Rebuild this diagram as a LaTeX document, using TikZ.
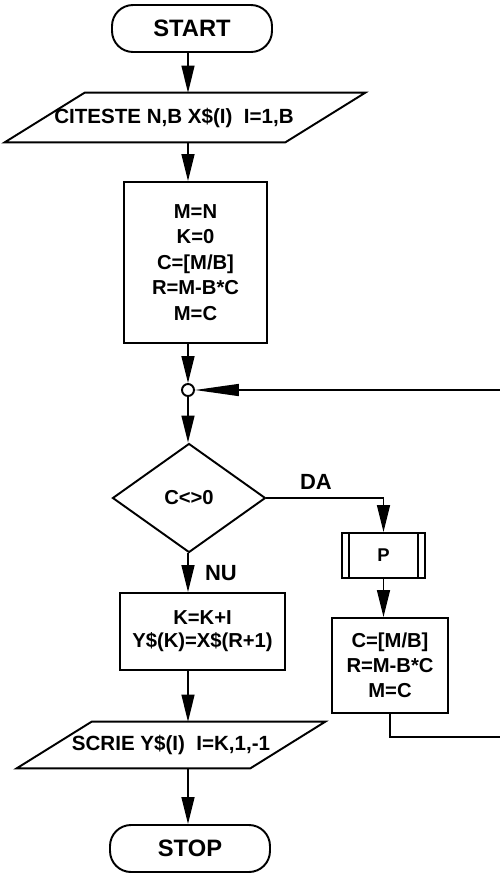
\documentclass[tikz,border=0pt]{standalone}
\usepackage{fontspec}
\setmainfont{Liberation Sans}
\usetikzlibrary{shapes.geometric,arrows.meta,calc}

\tikzset{
  term/.style={draw, line width=1.1pt, rounded corners=0.42cm, minimum width=3.2cm, minimum height=0.94cm,
    font=\fontsize{13.5}{16}\selectfont\bfseries},
  proc/.style={draw, line width=1.1pt, align=center, font=\fontsize{11.5}{14.5}\selectfont\bfseries},
  iotext/.style={font=\fontsize{11.7}{13}\selectfont\bfseries},
  decis/.style={draw, line width=1.1pt, diamond, minimum width=3.06cm, minimum height=2.18cm, inner sep=0pt,
    font=\fontsize{11.5}{13}\selectfont\bfseries},
  lbl/.style={font=\fontsize{12.5}{15}\selectfont\bfseries},
  arr/.style={line width=0.8pt, -{Triangle[length=0.54cm,width=0.26cm]}},
  arrlong/.style={line width=0.8pt, -{Triangle[length=0.88cm,width=0.24cm]}},
}

\begin{document}
\begin{tikzpicture}[x=0.02cm, y=-0.02cm]
  \useasboundingbox (0,0) rectangle (500,873);

  % main column
  \node[term] (start) at (192,28.5) {START};

  \node[iotext, minimum width=5.6cm, minimum height=0.98cm] (read) at (174,117.5)
    {CITESTE N,B X\$(I)\ \ I=1,B};
  \draw[line width=1.1pt] ($(read.south west)+(-29,0)$) -- ($(read.south east)+(-29,0)$)
    -- ($(read.north east)+(51,0)$) -- ($(read.north west)+(51,0)$) -- cycle;

  \node[proc, minimum width=2.86cm, minimum height=3.22cm] (init) at (195.5,262.5)
    {M=N\\K=0\\C=[M/B]\\R=M-B*C\\M=C};

  \node[circle, draw, line width=1.1pt, minimum size=0.24cm, inner sep=0pt] (join) at (188,390) {};

  \node[decis] (test) at (189,498) {C<>0};
  \node[lbl] (da) at (316,482) {DA};
  \node[lbl] (nu) at (221,573) {NU};

  \node[proc, minimum width=3.3cm, minimum height=1.54cm,
    font=\fontsize{11.5}{13}\selectfont\bfseries] (store) at (202.5,631.5)
    {K=K+I\\Y\$(K)=X\$(R+1)};

  \node[iotext, minimum width=4.66cm, minimum height=0.92cm] (write) at (171,745)
    {SCRIE Y\$(I)\ \ I=K,1,-1};
  \draw[line width=1.1pt] ($(write.south west)+(-37.5,0)$) -- ($(write.south east)+(-37.5,0)$)
    -- ($(write.north east)+(37.5,0)$) -- ($(write.north west)+(37.5,0)$) -- cycle;

  \node[term] (stop) at (190,848.5) {STOP};

  % right branch
  \node[proc, minimum width=1.66cm, minimum height=0.9cm,
    font=\fontsize{10.5}{12}\selectfont\bfseries] (sub) at (383.5,555.5) {P};
  \draw[line width=1.1pt] ([xshift=0.16cm]sub.north west) -- ([xshift=0.16cm]sub.south west);
  \draw[line width=1.1pt] ([xshift=-0.16cm]sub.north east) -- ([xshift=-0.16cm]sub.south east);

  \node[proc, minimum width=2.32cm, minimum height=1.9cm,
    font=\fontsize{11.5}{14.2}\selectfont\bfseries] (upd) at (390,665.5)
    {C=[M/B]\\R=M-B*C\\M=C};

  % connectors
  \draw[arr] (start.south -| join) -- (read.north -| join);
  \draw[arr] (read.south -| join) -- (init.north -| join);
  \draw[arr] (init.south -| join) -- (join);
  \draw[arr] (join) -- (join |- test.north);
  \draw[arr] (test.south -| join) -- (store.north -| join);
  \draw[arr] (store.south -| join) -- (write.north -| join);
  \draw[arr] (write.south -| join) -- (stop.north -| join);

  \draw[arr] (test.east) -| (sub.north);
  \draw[arr] (sub.south) -- (sub.south |- upd.north);
  \draw[arrlong] (upd.south) |- (505,737) |- (join);
\end{tikzpicture}
\end{document}
